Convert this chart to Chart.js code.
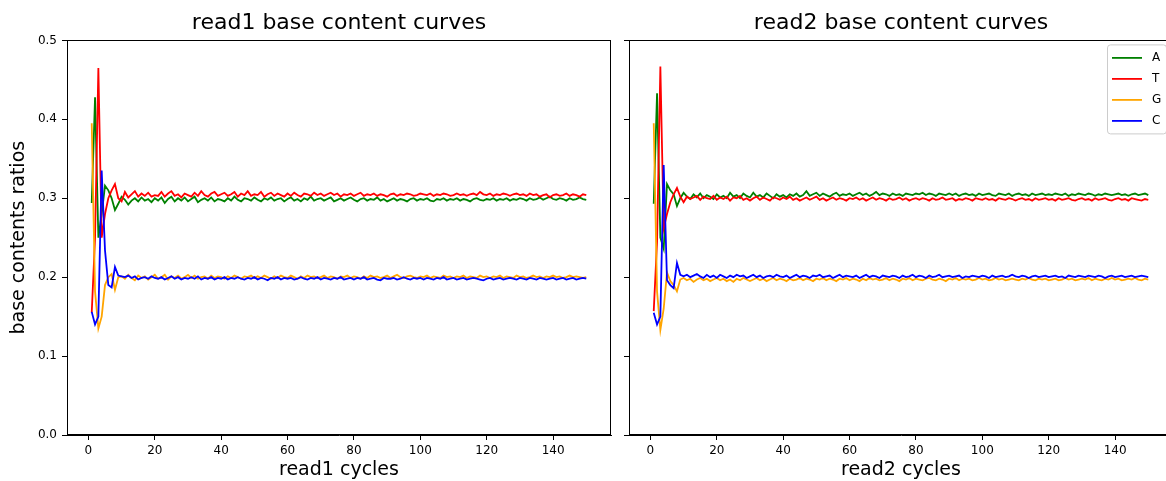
<!DOCTYPE html>
<html>
<head>
<meta charset="utf-8">
<script src="https://cdn.jsdelivr.net/npm/chart.js@4.4.1/dist/chart.umd.min.js"></script>
<style>
  html, body { margin: 0; padding: 0; background: #fff; overflow: hidden; }
  #wrap { position: relative; width: 1180px; height: 481px; }
  #c1 { position: absolute; left: 0; top: 0; }
  #c2 { position: absolute; left: 620px; top: 0; }
</style>
</head>
<body>
<div id="wrap">
  <canvas id="c1" width="620" height="481"></canvas>
  <canvas id="c2" width="560" height="481"></canvas>
</div>
<script>
// cycles 1..150
let cycles = Array.from({ length: 150 }, (v, i) => i + 1);
let xTicks = [0, 20, 40, 60, 80, 100, 120, 140];
let bases = ['A', 'T', 'G', 'C'];
let baseColors = ['#008000', '#ff0000', '#ffa500', '#0000ff'];

// read1
let read1A = [
  .294,.428,.250,.280,.316,.310,.300,.285,.293,.302,
  .298,.292,.297,.300,.296,.301,.297,.299,.295,.300,
  .297,.301,.294,.299,.302,.296,.300,.297,.301,.296,
  .299,.302,.295,.298,.300,.297,.301,.296,.299,.298,
  .296,.300,.297,.302,.298,.296,.300,.299,.297,.301,
  .298,.296,.300,.298,.301,.297,.299,.300,.296,.299,
  .301,.297,.299,.296,.300,.298,.302,.297,.299,.300,
  .297,.299,.301,.296,.298,.300,.297,.299,.301,.298,
  .296,.299,.300,.297,.299,.298,.301,.297,.299,.296,
  .298,.300,.297,.299,.298,.296,.299,.300,.297,.299,
  .298,.300,.297,.296,.299,.298,.300,.297,.299,.298,
  .300,.297,.299,.298,.296,.299,.300,.298,.297,.299,
  .298,.300,.297,.299,.298,.300,.297,.299,.298,.300,
  .299,.297,.300,.298,.299,.301,.298,.300,.302,.299,
  .298,.300,.299,.297,.300,.298,.299,.301,.299,.298
];
let read1T = [
  .155,.250,.465,.250,.280,.300,.310,.318,.300,.296,
  .308,.301,.305,.309,.302,.306,.303,.307,.302,.304,
  .303,.308,.302,.306,.309,.303,.305,.301,.306,.304,
  .302,.307,.303,.309,.304,.302,.306,.308,.303,.305,
  .307,.303,.305,.308,.302,.306,.304,.309,.303,.305,
  .304,.308,.302,.305,.307,.303,.306,.304,.302,.306,
  .303,.307,.304,.302,.306,.305,.303,.307,.304,.306,
  .303,.305,.307,.304,.306,.302,.305,.304,.306,.303,
  .305,.307,.303,.305,.304,.306,.303,.305,.304,.302,
  .305,.306,.303,.305,.304,.306,.305,.303,.304,.306,
  .305,.304,.306,.303,.305,.304,.306,.305,.303,.304,
  .306,.304,.305,.303,.305,.306,.304,.308,.305,.304,
  .306,.303,.305,.304,.306,.305,.303,.305,.306,.304,
  .305,.303,.306,.304,.305,.302,.304,.305,.301,.304,
  .305,.303,.304,.306,.303,.305,.304,.302,.305,.304
];
let read1G = [
  .395,.182,.135,.150,.190,.200,.204,.184,.200,.201,
  .198,.203,.199,.196,.202,.199,.201,.197,.200,.203,
  .198,.200,.203,.197,.201,.199,.202,.198,.200,.203,
  .199,.202,.198,.200,.201,.198,.202,.199,.201,.200,
  .198,.201,.199,.202,.200,.198,.201,.200,.202,.199,
  .201,.199,.202,.200,.198,.201,.199,.202,.200,.199,
  .202,.200,.198,.201,.199,.202,.200,.201,.199,.200,
  .202,.199,.201,.200,.198,.201,.200,.202,.199,.201,
  .200,.198,.201,.199,.202,.200,.201,.199,.200,.202,
  .199,.201,.203,.200,.199,.201,.202,.200,.199,.201,
  .200,.202,.199,.201,.200,.199,.202,.200,.201,.199,
  .201,.200,.202,.199,.201,.200,.199,.202,.200,.201,
  .199,.201,.200,.202,.199,.201,.200,.199,.202,.200,
  .201,.199,.200,.202,.200,.201,.199,.201,.200,.202,
  .200,.201,.199,.200,.202,.200,.201,.200,.199,.200
];
let read1C = [
  .156,.140,.150,.335,.234,.190,.187,.213,.202,.201,
  .200,.202,.199,.201,.197,.199,.200,.198,.201,.199,
  .198,.200,.197,.199,.201,.198,.200,.197,.199,.198,
  .200,.198,.201,.197,.199,.198,.200,.197,.199,.198,
  .200,.197,.199,.198,.200,.198,.197,.199,.198,.200,
  .197,.199,.198,.196,.199,.198,.200,.197,.199,.198,
  .199,.197,.198,.200,.198,.197,.199,.198,.200,.197,
  .199,.198,.197,.199,.198,.200,.197,.198,.199,.197,
  .199,.198,.200,.197,.198,.199,.197,.196,.199,.198,
  .198,.199,.197,.198,.200,.198,.197,.199,.198,.199,
  .197,.199,.198,.197,.199,.198,.200,.197,.198,.199,
  .197,.198,.199,.197,.198,.199,.198,.197,.196,.198,
  .199,.197,.198,.199,.197,.198,.199,.198,.197,.199,
  .198,.197,.199,.198,.197,.199,.198,.197,.198,.199,
  .197,.198,.199,.197,.198,.199,.197,.198,.199,.198
];

// read2
let read2A = [
  .293,.433,.250,.236,.318,.310,.305,.290,.300,.307,
  .302,.299,.305,.301,.306,.300,.304,.302,.299,.305,
  .301,.303,.300,.307,.302,.304,.300,.306,.303,.301,
  .307,.302,.304,.301,.306,.303,.300,.305,.302,.304,
  .301,.305,.303,.306,.302,.304,.309,.303,.305,.307,
  .303,.306,.304,.302,.305,.307,.303,.305,.304,.306,
  .303,.305,.307,.304,.306,.303,.305,.308,.304,.306,
  .305,.303,.306,.304,.305,.303,.306,.305,.304,.306,
  .305,.307,.304,.306,.305,.303,.306,.305,.304,.306,
  .304,.306,.303,.305,.306,.304,.305,.303,.306,.304,
  .305,.306,.304,.303,.306,.305,.304,.306,.303,.305,
  .306,.304,.305,.303,.306,.304,.305,.306,.304,.305,
  .304,.306,.305,.304,.306,.303,.305,.304,.306,.305,
  .304,.306,.305,.303,.305,.304,.306,.305,.304,.305,
  .306,.304,.305,.303,.305,.306,.304,.305,.306,.304
];
let read2T = [
  .157,.245,.467,.262,.280,.295,.305,.313,.302,.295,
  .302,.299,.301,.303,.298,.302,.300,.299,.303,.298,
  .301,.299,.302,.297,.301,.300,.303,.298,.300,.297,
  .300,.302,.298,.301,.299,.297,.301,.300,.298,.301,
  .299,.302,.298,.300,.297,.299,.301,.298,.300,.302,
  .298,.300,.297,.299,.301,.298,.300,.299,.297,.300,
  .299,.301,.298,.300,.297,.299,.301,.298,.300,.299,
  .297,.300,.298,.299,.301,.298,.300,.297,.299,.300,
  .298,.300,.299,.297,.300,.298,.299,.301,.298,.299,
  .300,.297,.299,.298,.300,.299,.297,.300,.299,.298,
  .300,.298,.299,.297,.300,.299,.298,.300,.299,.297,
  .299,.300,.298,.299,.297,.300,.298,.299,.300,.298,
  .299,.297,.300,.298,.299,.300,.298,.297,.299,.300,
  .298,.299,.297,.300,.298,.299,.300,.298,.297,.299,
  .300,.298,.299,.297,.300,.299,.298,.297,.299,.298
];
let read2G = [
  .395,.182,.133,.160,.206,.195,.190,.182,.197,.199,
  .196,.198,.194,.197,.199,.196,.198,.195,.197,.199,
  .196,.198,.195,.197,.194,.198,.196,.199,.197,.195,
  .197,.199,.196,.198,.195,.197,.199,.196,.198,.197,
  .195,.198,.196,.197,.199,.196,.198,.197,.195,.198,
  .197,.199,.196,.198,.197,.195,.198,.197,.199,.196,
  .198,.197,.195,.198,.196,.199,.197,.198,.196,.197,
  .199,.196,.198,.197,.195,.198,.197,.199,.196,.198,
  .197,.196,.198,.199,.197,.196,.198,.197,.195,.198,
  .197,.199,.196,.198,.197,.198,.196,.197,.199,.197,
  .198,.196,.197,.199,.197,.198,.196,.197,.198,.197,
  .196,.198,.197,.199,.197,.196,.198,.197,.198,.196,
  .197,.198,.196,.197,.199,.197,.198,.196,.197,.198,
  .197,.199,.196,.198,.197,.196,.198,.197,.199,.197,
  .198,.196,.197,.198,.197,.199,.197,.196,.198,.197
];
let read2C = [
  .155,.140,.150,.342,.196,.190,.186,.218,.203,.201,
  .203,.200,.202,.204,.201,.199,.203,.200,.202,.199,
  .203,.201,.199,.202,.200,.203,.201,.202,.199,.201,
  .203,.200,.202,.199,.201,.202,.200,.203,.201,.200,
  .202,.199,.201,.203,.200,.202,.201,.199,.202,.201,
  .203,.200,.201,.202,.199,.201,.203,.200,.202,.201,
  .200,.202,.199,.201,.203,.200,.202,.201,.199,.202,
  .201,.200,.202,.201,.199,.202,.200,.201,.203,.200,
  .202,.201,.199,.202,.200,.201,.203,.200,.201,.202,
  .200,.201,.202,.199,.201,.200,.202,.201,.200,.202,
  .201,.199,.202,.200,.201,.202,.200,.201,.203,.201,
  .200,.202,.201,.199,.201,.202,.200,.201,.202,.200,
  .201,.202,.200,.201,.199,.202,.201,.200,.202,.201,
  .200,.202,.201,.200,.202,.201,.199,.201,.202,.200,
  .201,.202,.200,.201,.202,.200,.201,.202,.201,.200
];

Chart.defaults.font.family = "'DejaVu Sans', sans-serif";
Chart.defaults.color = '#000';

// spines on all four sides, like matplotlib
const framePlugin = {
  id: 'frame',
  afterDraw(chart) {
    const { ctx, chartArea: a } = chart;
    ctx.save();
    ctx.strokeStyle = '#000';
    ctx.lineWidth = 1;
    ctx.strokeRect(Math.round(a.left) + 0.5, Math.round(a.top) + 0.5,
      Math.round(a.right - a.left) - 1, Math.round(a.bottom - a.top) - 1);
    ctx.restore();
  }
};

// legend box in the upper right corner of the axes
const boxLegend = {
  id: 'boxLegend',
  afterDraw(chart, args, opts) {
    if (!opts.show) return;
    const { ctx, chartArea: a } = chart;
    const w = 59, h = 89;
    const x = a.right - 7 - w, y = a.top + 4;
    ctx.save();
    ctx.beginPath();
    ctx.roundRect(x + 0.5, y + 0.5, w, h, 3);
    ctx.fillStyle = 'rgba(255,255,255,0.8)';
    ctx.fill();
    ctx.strokeStyle = '#cccccc';
    ctx.lineWidth = 1;
    ctx.stroke();
    ctx.font = "12px 'DejaVu Sans'";
    ctx.textBaseline = 'middle';
    ctx.textAlign = 'left';
    chart.data.datasets.forEach((ds, i) => {
      const ly = y + 13.5 + i * 21;
      ctx.beginPath();
      ctx.moveTo(x + 5, ly);
      ctx.lineTo(x + 35, ly);
      ctx.strokeStyle = ds.borderColor;
      ctx.lineWidth = 1.8;
      ctx.stroke();
      ctx.fillStyle = '#000';
      ctx.fillText(ds.label, x + 45, ly);
    });
    ctx.restore();
  }
};

function makeChart(id, title, xTitle, series, first) {
  const ctx = document.getElementById(id).getContext('2d');
  return new Chart(ctx, {
    type: 'line',
    data: {
      datasets: bases.map((b, i) => ({
        label: b,
        data: cycles.map((c, j) => ({ x: c, y: series[i][j] })),
        borderColor: baseColors[i],
        borderWidth: 1.8,
        pointRadius: 0,
        tension: 0,
        fill: false,
        order: bases.length - i,
      })),
    },
    options: {
      responsive: false,
      animation: false,
      devicePixelRatio: 1,
      layout: { padding: { left: 0, right: first ? 9 : 7, top: 0, bottom: 0 } },
      plugins: {
        legend: { display: false },
        tooltip: { enabled: false },
        title: {
          display: true,
          text: title,
          fullSize: false,
          color: '#000',
          font: { size: 22, weight: 'normal' },
          padding: { top: 10, bottom: 4 },
        },
        boxLegend: { show: !first },
      },
      scales: {
        x: {
          type: 'linear',
          min: -6.45,
          max: 157.45,
          afterBuildTicks: (s) => { s.ticks = xTicks.map((v) => ({ value: v })); },
          afterFit: (s) => { s.height = 46; },
          grid: { drawOnChartArea: false, tickLength: 5, tickColor: '#000' },
          border: { color: '#000' },
          ticks: { font: { size: 12 }, padding: 4, maxRotation: 0, color: '#000' },
          title: {
            display: true,
            text: xTitle,
            font: { size: 19 },
            color: '#000',
            padding: { top: 0, bottom: 0 },
          },
        },
        y: {
          min: 0,
          max: 0.5,
          afterFit: (s) => { s.width = first ? 67 : 9; },
          grid: { drawOnChartArea: false, tickLength: 5, tickColor: '#000' },
          border: { color: '#000' },
          ticks: {
            display: first,
            stepSize: 0.1,
            font: { size: 12 },
            padding: 5,
            color: '#000',
            callback: (v) => v.toFixed(1),
          },
          title: {
            display: first,
            text: 'base contents ratios',
            font: { size: 19 },
            color: '#000',
            padding: { top: 8, bottom: 0 },
          },
        },
      },
    },
    plugins: [framePlugin, boxLegend],
  });
}

makeChart('c1', 'read1 base content curves', 'read1 cycles', [read1A, read1T, read1G, read1C], true);
makeChart('c2', 'read2 base content curves', 'read2 cycles', [read2A, read2T, read2G, read2C], false);
</script>
</body>
</html>
